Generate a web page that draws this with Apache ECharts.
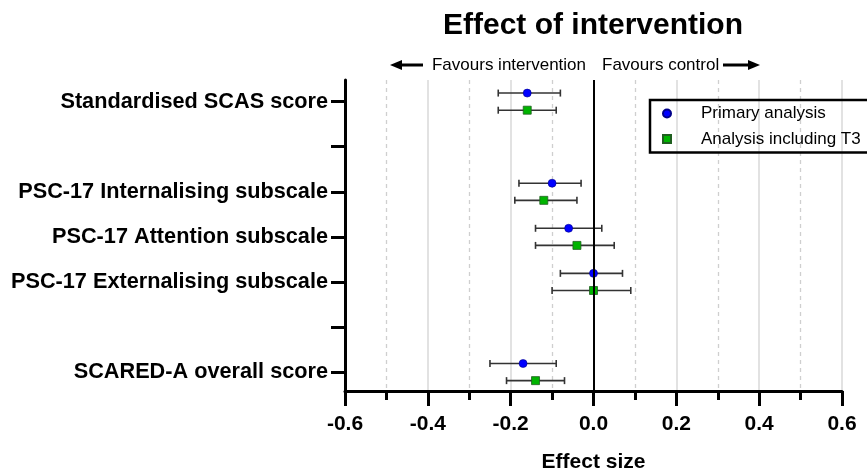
<!DOCTYPE html>
<html>
<head>
<meta charset="utf-8">
<script src="https://cdn.jsdelivr.net/npm/echarts@6/dist/echarts.min.js"></script>
<style>html,body{margin:0;padding:0;background:#fff}#c{width:867px;height:471px}</style>
</head>
<body>
<div id="c"></div>
<script>
// Category rows, bottom to top (blank rows are spacers)
const categories = ['SCARED-A overall score', '', 'PSC-17 Externalising subscale', 'PSC-17 Attention subscale', 'PSC-17 Internalising subscale', '', 'Standardised SCAS score'];
const measures = ['Standardised SCAS score', 'PSC-17 Internalising subscale', 'PSC-17 Attention subscale', 'PSC-17 Externalising subscale', 'SCARED-A overall score'];
const primaryEst = [-0.16, -0.10, -0.06, 0.00, -0.17];
const primaryLo  = [-0.23, -0.18, -0.14, -0.08, -0.25];
const primaryHi  = [-0.08, -0.03, 0.02, 0.07, -0.09];
const t3Est = [-0.16, -0.12, -0.04, 0.00, -0.14];
const t3Lo  = [-0.23, -0.19, -0.14, -0.10, -0.21];
const t3Hi  = [-0.09, -0.04, 0.05, 0.09, -0.07];
const xTicks = [-0.6, -0.4, -0.2, 0.0, 0.2, 0.4, 0.6];

const FONT = 'Arial, "Liberation Sans", sans-serif';
const OFF = 0.19;
const rowOf = m => categories.indexOf(m) + 1;
const rowValues = categories.map((c, i) => i + 1);

const primaryPts = measures.map((m, i) => [primaryEst[i], rowOf(m) + OFF]);
const t3Pts = measures.map((m, i) => [t3Est[i], rowOf(m) - OFF]);
const bars = measures.map((m, i) => [primaryLo[i], primaryHi[i], rowOf(m) + OFF])
  .concat(measures.map((m, i) => [t3Lo[i], t3Hi[i], rowOf(m) - OFF]));

const chart = echarts.init(document.getElementById('c'), null, {renderer: 'canvas'});

function arrow(x1, x2, y) {
  const dir = x2 > x1 ? 1 : -1;
  const head = 12;
  return [
    {type: 'line', shape: {x1: x1, y1: y, x2: x2 - dir * (head - 2), y2: y}, style: {stroke: '#000', lineWidth: 3}},
    {type: 'polygon', shape: {points: [[x2, y], [x2 - dir * head, y - 5], [x2 - dir * head, y + 5]]}, style: {fill: '#000'}}
  ];
}

chart.setOption({
  animation: false,
  title: {
    text: 'Effect of intervention',
    left: 438, top: 6,
    textStyle: {fontFamily: FONT, fontSize: 30, fontWeight: 'bold', color: '#000'}
  },
  legend: {
    data: [{name: 'Primary analysis', icon: 'circle'}, {name: 'Analysis including T3', icon: 'rect'}],
    orient: 'vertical',
    left: 650, top: 100,
    itemWidth: 8, itemHeight: 8, itemGap: 8.5,
    padding: [5, 10, 5, 12],
    borderColor: '#000', borderWidth: 2.5,
    textStyle: {fontFamily: FONT, fontSize: 17, color: '#000', lineHeight: 17, padding: [0, 0, 0, 25]}
  },
  grid: {left: 345, right: 25, top: 80, bottom: 80, containLabel: false, outerBoundsMode: 'none'},
  xAxis: {
    type: 'value', min: -0.6, max: 0.6, interval: 0.2,
    name: 'Effect size', nameLocation: 'middle', nameGap: 61,
    nameTextStyle: {fontFamily: FONT, fontSize: 21, fontWeight: 'bold', color: '#000'},
    axisLine: {show: true, onZero: false, lineStyle: {color: '#000', width: 3}},
    axisTick: {show: true, length: 15, lineStyle: {color: '#000', width: 3}},
    minorTick: {show: true, splitNumber: 2, length: 9, lineStyle: {color: '#000', width: 3}},
    axisLabel: {margin: 23, fontFamily: FONT, fontSize: 21, fontWeight: 'bold', color: '#000',
      formatter: v => { const t = xTicks.find(x => Math.abs(x - v) < 1e-6); return (t === undefined ? v : t).toFixed(1); }},
    splitLine: {show: true, showMinLine: false, lineStyle: {color: '#d9d9d9', width: 1.5}},
    minorSplitLine: {show: true, lineStyle: {color: '#cfcfcf', width: 1.3, type: [4, 4]}}
  },
  yAxis: {
    type: 'value', min: 0.58, max: 7.48,
    axisLine: {show: true, onZero: false, lineStyle: {color: '#000', width: 3}},
    axisTick: {show: true, length: 14, customValues: rowValues, lineStyle: {color: '#000', width: 3}},
    axisLabel: {show: true, margin: 17, customValues: rowValues, fontFamily: FONT, fontSize: 21.7, fontWeight: 'bold', color: '#000',
      formatter: v => categories[Math.round(v) - 1] || ''},
    splitLine: {show: false}
  },
  graphic: [
    {type: 'text', style: {text: 'Favours intervention', x: 586, y: 65, align: 'right', verticalAlign: 'middle', font: '17px ' + FONT, fill: '#000'}},
    {type: 'text', style: {text: 'Favours control', x: 602, y: 65, align: 'left', verticalAlign: 'middle', font: '17px ' + FONT, fill: '#000'}}
  ].concat(arrow(423, 390, 65), arrow(723, 760, 65)),
  series: [
    {
      type: 'custom', name: 'CI', z: 2, silent: true,
      data: bars,
      encode: {x: [0, 1], y: 2},
      renderItem: function (params, api) {
        const y = api.value(2);
        const a = api.coord([api.value(0), y]);
        const b = api.coord([api.value(1), y]);
        const h = 3.5;
        const st = {stroke: '#333', lineWidth: 1.6};
        return {type: 'group', children: [
          {type: 'line', shape: {x1: a[0], y1: a[1], x2: b[0], y2: b[1]}, style: st},
          {type: 'line', shape: {x1: a[0], y1: a[1] - h, x2: a[0], y2: a[1] + h}, style: st},
          {type: 'line', shape: {x1: b[0], y1: b[1] - h, x2: b[0], y2: b[1] + h}, style: st}
        ]};
      },
      markLine: {
        silent: true, symbol: 'none', label: {show: false},
        lineStyle: {color: '#000', width: 2, type: 'solid'},
        data: [{xAxis: 0}]
      }
    },
    {
      type: 'scatter', name: 'Primary analysis', z: 3,
      symbol: 'circle', symbolSize: 8,
      itemStyle: {color: '#0000ff', borderColor: '#00008a', borderWidth: 0.6, opacity: 1},
      data: primaryPts
    },
    {
      type: 'scatter', name: 'Analysis including T3', z: 3,
      symbol: 'rect', symbolSize: 8,
      itemStyle: {color: '#00b400', borderColor: '#1f5f1f', borderWidth: 0.8, opacity: 1},
      data: t3Pts
    }
  ]
});
</script>
</body>
</html>
